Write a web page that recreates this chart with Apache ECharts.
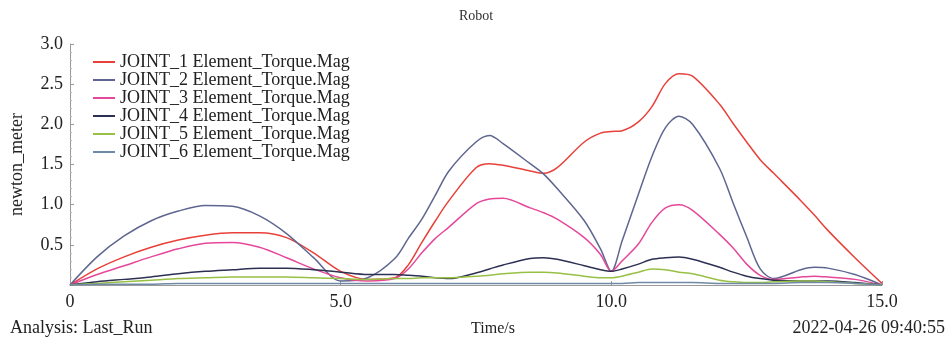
<!DOCTYPE html>
<html>
<head>
<meta charset="utf-8">
<script src="https://cdn.jsdelivr.net/npm/echarts@6/dist/echarts.min.js"></script>
<style>
  html, body { margin: 0; padding: 0; background: #fff; }
  #chart { width: 952px; height: 344px; }
</style>
</head>
<body>
<div id="chart"></div>
<script>
// Simulation time samples (s)
const times = [0, 0.5, 1, 1.5, 2, 2.5, 3, 3.5, 4, 4.5, 5, 5.5, 6, 6.25, 6.5, 6.75, 7, 7.5, 7.75, 8, 8.5, 8.75, 9, 9.5, 9.8, 10, 10.2, 10.5, 10.75, 11, 11.25, 11.5, 12, 12.25, 12.5, 12.75, 13, 13.5, 13.75, 14, 14.5, 15];

// Joint torque magnitudes (newton_meter)
const joint1 = [0, 0.2, 0.35, 0.47, 0.56, 0.62, 0.65, 0.65, 0.59, 0.4, 0.17, 0.07, 0.09, 0.25, 0.53, 0.8, 1.05, 1.46, 1.51, 1.49, 1.42, 1.39, 1.46, 1.78, 1.89, 1.91, 1.92, 2.03, 2.22, 2.51, 2.63, 2.6, 2.25, 2.01, 1.78, 1.56, 1.39, 1.05, 0.87, 0.68, 0.34, 0.02];
const joint2 = [0, 0.35, 0.61, 0.8, 0.92, 0.99, 0.98, 0.86, 0.64, 0.34, 0.05, 0.09, 0.33, 0.58, 0.82, 1.12, 1.42, 1.78, 1.86, 1.76, 1.51, 1.38, 1.2, 0.8, 0.45, 0.17, 0.55, 1.13, 1.6, 1.96, 2.1, 2.0, 1.45, 1.02, 0.6, 0.2, 0.08, 0.19, 0.22, 0.21, 0.13, 0];
const joint3 = [0, 0.13, 0.24, 0.35, 0.45, 0.52, 0.53, 0.47, 0.34, 0.2, 0.09, 0.05, 0.08, 0.2, 0.4, 0.58, 0.72, 1.01, 1.07, 1.08, 0.96, 0.9, 0.82, 0.59, 0.38, 0.17, 0.3, 0.51, 0.78, 0.96, 1.0, 0.93, 0.63, 0.46, 0.26, 0.12, 0.07, 0.1, 0.11, 0.1, 0.07, 0];
const joint4 = [0, 0.04, 0.07, 0.1, 0.14, 0.17, 0.19, 0.21, 0.21, 0.19, 0.16, 0.13, 0.13, 0.12, 0.11, 0.09, 0.08, 0.15, 0.2, 0.25, 0.33, 0.34, 0.32, 0.24, 0.19, 0.17, 0.2, 0.26, 0.32, 0.34, 0.35, 0.32, 0.22, 0.16, 0.11, 0.08, 0.06, 0.05, 0.05, 0.05, 0.03, 0];
const joint5 = [0, 0.02, 0.04, 0.06, 0.08, 0.09, 0.1, 0.1, 0.1, 0.09, 0.08, 0.07, 0.08, 0.08, 0.09, 0.09, 0.09, 0.11, 0.12, 0.14, 0.16, 0.16, 0.15, 0.11, 0.09, 0.09, 0.11, 0.16, 0.2, 0.19, 0.16, 0.14, 0.06, 0.04, 0.03, 0.03, 0.04, 0.05, 0.05, 0.04, 0.02, 0];
const joint6 = [0, 0.01, 0.01, 0.01, 0.02, 0.02, 0.02, 0.02, 0.02, 0.02, 0.02, 0.02, 0.02, 0.02, 0.02, 0.02, 0.02, 0.02, 0.02, 0.02, 0.02, 0.02, 0.02, 0.02, 0.02, 0.02, 0.02, 0.03, 0.03, 0.03, 0.03, 0.03, 0.02, 0.02, 0.02, 0.02, 0.02, 0.03, 0.03, 0.03, 0.02, 0];

const seriesNames = [
  'JOINT_1 Element_Torque.Mag',
  'JOINT_2 Element_Torque.Mag',
  'JOINT_3 Element_Torque.Mag',
  'JOINT_4 Element_Torque.Mag',
  'JOINT_5 Element_Torque.Mag',
  'JOINT_6 Element_Torque.Mag'
];
const seriesValues = [joint1, joint2, joint3, joint4, joint5, joint6];
const seriesColors = ['#e8413a', '#5e6690', '#e5489a', '#2c3052', '#98c044', '#6f8aa6'];

const yTicks = [0, 0.5, 1.0, 1.5, 2.0, 2.5, 3.0];
const xTicks = [0, 5, 10, 15];

const FONT = '"Liberation Serif", "DejaVu Serif", serif';

const chart = echarts.init(document.getElementById('chart'));

chart.setOption({
  backgroundColor: '#ffffff',
  animation: false,
  textStyle: { fontFamily: FONT },
  title: {
    text: 'Robot',
    left: 'center',
    top: 4,
    textStyle: { fontFamily: FONT, fontSize: 14, fontWeight: 'normal', color: '#333' }
  },
  legend: {
    orient: 'vertical',
    left: 88,
    top: 48,
    itemWidth: 22,
    itemHeight: 2,
    itemGap: 0,
    icon: 'rect',
    textStyle: { fontFamily: FONT, fontSize: 18, lineHeight: 17.6, color: '#222' },
    data: seriesNames
  },
  grid: { left: 70, right: 70, top: 44, bottom: 59 },
  xAxis: {
    type: 'value',
    min: xTicks[0],
    max: xTicks[xTicks.length - 1],
    interval: 5,
    name: 'Time/s',
    nameLocation: 'middle',
    nameGap: 36,
    nameTextStyle: { fontFamily: FONT, fontSize: 16, color: '#222', padding: [0, 0, 0, 34] },
    axisLine: { lineStyle: { color: '#9a9a9a', width: 1 } },
    axisTick: { show: true, inside: true, length: 4, lineStyle: { color: '#9a9a9a' } },
    splitLine: { show: false },
    axisLabel: {
      fontFamily: FONT, fontSize: 18, color: '#222', margin: 8,
      formatter: v => (v === 0 ? '0' : v.toFixed(1))
    }
  },
  yAxis: {
    type: 'value',
    min: yTicks[0],
    max: yTicks[yTicks.length - 1],
    interval: 0.5,
    name: 'newton_meter',
    nameLocation: 'middle',
    nameGap: 44,
    nameTextStyle: { fontFamily: FONT, fontSize: 18, color: '#222' },
    axisLine: { show: true, lineStyle: { color: '#9a9a9a', width: 1 } },
    axisTick: { show: true, inside: true, length: 4, lineStyle: { color: '#9a9a9a' } },
    minorTick: { show: true, splitNumber: 5, length: 2, lineStyle: { color: '#bbbbbb' } },
    splitLine: { show: false },
    axisLabel: {
      fontFamily: FONT, fontSize: 18, color: '#222', margin: 7,
      formatter: v => (v === 0 ? '' : v.toFixed(1))
    }
  },
  series: seriesNames.map((name, i) => ({
    name: name,
    type: 'line',
    smooth: 0.3,
    symbol: 'none',
    color: seriesColors[i],
    lineStyle: { width: 1.5, color: seriesColors[i] },
    data: times.map((t, k) => [t, seriesValues[i][k]])
  })),
  graphic: [
    {
      type: 'text', left: 10, top: 319,
      style: { text: 'Analysis: Last_Run', font: '18px ' + FONT, fill: '#222' }
    },
    {
      type: 'text', right: 7, top: 319,
      style: { text: '2022-04-26 09:40:55', font: '18px ' + FONT, fill: '#222' }
    }
  ]
});
</script>
</body>
</html>
